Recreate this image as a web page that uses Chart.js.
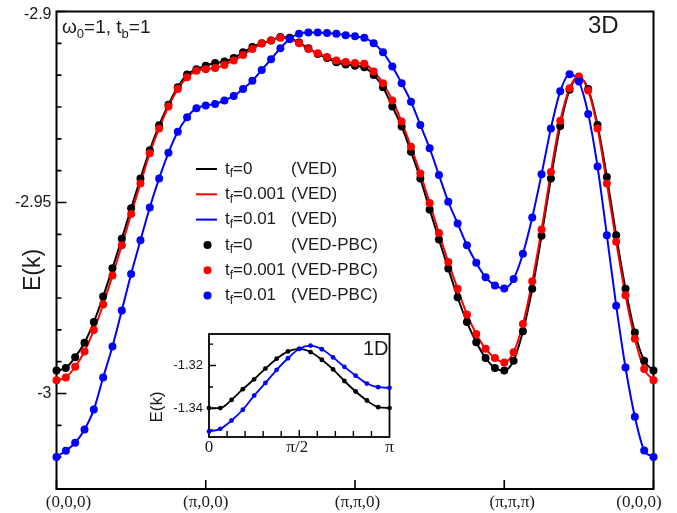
<!DOCTYPE html>
<html><head><meta charset="utf-8">
<script src="https://cdn.jsdelivr.net/npm/chart.js@4.4.0/dist/chart.umd.min.js"></script>
<style>
html,body{margin:0;padding:0;background:#fff;}
#wrap{position:relative;width:677px;height:513px;overflow:hidden;}
#main{position:absolute;left:0;top:0;}
#inset{position:absolute;left:140px;top:326px;}
</style></head><body>
<div id="wrap"><canvas id="main" width="677" height="513"></canvas><canvas id="inset" width="265" height="137"></canvas></div>
<script>
// ---------- main 3D panel data ----------
const kTickPos = [0, 16, 32, 48, 64];
const kTickLabels = ['(0,0,0)', '(\u03c0,0,0)', '(\u03c0,\u03c0,0)', '(\u03c0,\u03c0,\u03c0)', '(0,0,0)'];
const eTf0 = [
 -2.9940,-2.9933,-2.9905,-2.9867,-2.9813,-2.9746,-2.9672,-2.9595,-2.9515,-2.9437,-2.9363,-2.9298,-2.9244,-2.9198,-2.9165,-2.9151,-2.9142,
 -2.9135,-2.9131,-2.9122,-2.9107,-2.9093,-2.9083,-2.9076,-2.9067,-2.9069,-2.9081,-2.9096,-2.9111,-2.9122,-2.9133,-2.9139,-2.9142,
 -2.9146,-2.9166,-2.9198,-2.9249,-2.9301,-2.9367,-2.9437,-2.9518,-2.9597,-2.9673,-2.9748,-2.9813,-2.9866,-2.9907,-2.9933,-2.9940,
 -2.9914,-2.9837,-2.9726,-2.9587,-2.9437,-2.9300,-2.9205,-2.9174,-2.9203,-2.9297,-2.9433,-2.9586,-2.9726,-2.9840,-2.9914,-2.9940];
const eTf001 = [
 -2.9965,-2.9958,-2.9930,-2.9890,-2.9834,-2.9767,-2.9691,-2.9612,-2.9530,-2.9450,-2.9371,-2.9306,-2.9249,-2.9203,-2.9172,-2.9155,-2.9151,
 -2.9148,-2.9140,-2.9128,-2.9114,-2.9098,-2.9084,-2.9076,-2.9069,-2.9072,-2.9083,-2.9098,-2.9109,-2.9119,-2.9128,-2.9132,-2.9135,
 -2.9137,-2.9157,-2.9188,-2.9233,-2.9288,-2.9354,-2.9424,-2.9501,-2.9580,-2.9656,-2.9726,-2.9793,-2.9844,-2.9883,-2.9907,-2.9919,
 -2.9892,-2.9818,-2.9706,-2.9571,-2.9420,-2.9286,-2.9201,-2.9170,-2.9207,-2.9306,-2.9450,-2.9603,-2.9743,-2.9857,-2.9936,-2.9965];
const eTf01 = [
 -3.0166,-3.0150,-3.0129,-3.0094,-3.0042,-2.9958,-2.9877,-2.9783,-2.9687,-2.9599,-2.9513,-2.9437,-2.9370,-2.9315,-2.9277,-2.9253,-2.9246,
 -2.9242,-2.9233,-2.9221,-2.9203,-2.9181,-2.9153,-2.9125,-2.9096,-2.9072,-2.9058,-2.9055,-2.9055,-2.9056,-2.9058,-2.9062,-2.9065,
 -2.9069,-2.9083,-2.9107,-2.9144,-2.9188,-2.9236,-2.9297,-2.9358,-2.9428,-2.9498,-2.9555,-2.9612,-2.9658,-2.9696,-2.9717,-2.9725,
 -2.9700,-2.9634,-2.9539,-2.9426,-2.9306,-2.9209,-2.9164,-2.9183,-2.9268,-2.9406,-2.9586,-2.9770,-2.9932,-3.0061,-3.0149,-3.0166];
const yMajor = [-3, -2.95, -2.9];
const yMajorLabels = ['-3', '-2.95', '-2.9'];
const tfLabels = ['0', '0.001', '0.01'];
const methodLabels = ['(VED)', '(VED-PBC)'];

// ---------- inset 1D panel data ----------
const k1D = [0,0.0625,0.125,0.1875,0.25,0.3125,0.375,0.4375,0.5,0.5625,0.625,0.6875,0.75,0.8125,0.875,0.9375,1];
const e1DTf0 = [-1.3398,-1.3398,-1.3360,-1.3310,-1.3264,-1.3214,-1.3168,-1.3134,-1.3122,-1.3137,-1.3173,-1.3218,-1.3272,-1.3321,-1.3363,-1.3394,-1.3398];
const e1DTf01 = [-1.3507,-1.3495,-1.3456,-1.3406,-1.3340,-1.3281,-1.3220,-1.3166,-1.3122,-1.3107,-1.3124,-1.3162,-1.3206,-1.3247,-1.3284,-1.3301,-1.3304];
const k1DTickPos = [0, 0.5, 1];
const k1DTickLabels = ['0', '\u03c0/2', '\u03c0'];
const e1DMajor = [-1.34, -1.32];
const e1DMajorLabels = ['-1.34', '-1.32'];

const BLACK = '#000000', RED = '#ff0000', BLUE = '#0000ff';
const SANS = '"Liberation Sans", Arial, Helvetica, sans-serif';
const SERIF = '"Liberation Serif", "Times New Roman", serif';

const xyIdx = ys => ys.map((y, i) => ({x: i, y}));
const xyK = (xs, ys) => ys.map((y, i) => ({x: xs[i], y}));

function lineDS(label, data, color, order, w) {
  return {label, data, borderColor: color, backgroundColor: color, borderWidth: w,
    pointRadius: 0, cubicInterpolationMode: 'monotone', order, clip: false};
}
function dotDS(label, data, color, order, r) {
  return {label, data, showLine: false, pointRadius: r, pointHoverRadius: r,
    pointBackgroundColor: color, pointBorderColor: color, pointBorderWidth: 0,
    borderColor: color, backgroundColor: color, order, clip: false};
}

function drawSub(ctx, parts, x, y) {
  // parts: [text, size, dy]
  let cx = x;
  for (const [t, size, dy] of parts) {
    ctx.font = size + 'px ' + SANS;
    ctx.fillText(t, cx, y + dy);
    cx += ctx.measureText(t).width;
  }
  return cx;
}

const mainDeco = {
  id: 'mainDeco',
  beforeDatasetsDraw(chart) {
    const {ctx, chartArea: a, scales: {x, y}} = chart;
    ctx.save();
    ctx.strokeStyle = '#000'; ctx.lineWidth = 2;
    ctx.strokeRect(a.left, a.top, a.right - a.left, a.bottom - a.top);
    ctx.lineWidth = 1.6;
    ctx.beginPath();
    const step = 0.05 / 6;
    for (let k = 0; k <= 15; k++) {
      const v = y.min + k * step;
      const py = y.getPixelForValue(v);
      const major = (k % 6) === 3;
      ctx.moveTo(a.left, py); ctx.lineTo(a.left + (major ? 10 : 5), py);
    }
    for (const p of kTickPos) {
      const px = x.getPixelForValue(p);
      ctx.moveTo(px, a.bottom); ctx.lineTo(px, a.bottom - 9);
    }
    ctx.stroke();
    ctx.restore();
  },
  afterDraw(chart) {
    const {ctx, chartArea: a, scales: {x, y}} = chart;
    ctx.save();
    ctx.fillStyle = '#1a1a1a';
    // y tick labels
    ctx.font = '16px ' + SANS; ctx.textAlign = 'right'; ctx.textBaseline = 'middle';
    yMajor.forEach((v, i) => {
      let py = y.getPixelForValue(v);
      if (i === yMajor.length - 1) py += 3;
      ctx.fillText(yMajorLabels[i], a.left - 5, py);
    });
    // x tick labels
    const nudge = [12, 0, 2.5, 8, -14.5];
    ctx.font = '17px ' + SERIF; ctx.textAlign = 'center'; ctx.textBaseline = 'middle';
    kTickPos.forEach((p, i) => ctx.fillText(kTickLabels[i], x.getPixelForValue(p) + nudge[i], 503));
    // y title
    ctx.save();
    ctx.translate(34, 270); ctx.rotate(-Math.PI / 2);
    ctx.font = '23px ' + SANS; ctx.textAlign = 'center'; ctx.textBaseline = 'middle';
    ctx.fillText('E(k)', 0, 0);
    ctx.restore();
    // annotations
    ctx.textAlign = 'left'; ctx.textBaseline = 'alphabetic';
    drawSub(ctx, [['\u03c9', 19, 0], ['0', 13, 5], ['=1, t', 19, 0], ['b', 13, 5], ['=1', 19, 0]], 62, 33);
    ctx.font = '24px ' + SANS;
    ctx.fillText('3D', 588, 33);
    // legend
    const rows = [169, 194.3, 219.6, 244.9, 270.2, 295.5];
    const cols = [BLACK, RED, BLUE];
    ctx.textBaseline = 'middle';
    for (let r = 0; r < 6; r++) {
      const ci = r % 3, ry = rows[r];
      ctx.fillStyle = cols[ci]; ctx.strokeStyle = cols[ci];
      if (r < 3) {
        ctx.lineWidth = 2; ctx.beginPath(); ctx.moveTo(196, ry); ctx.lineTo(217, ry); ctx.stroke();
      } else {
        ctx.beginPath(); ctx.arc(207.5, ry, 4, 0, Math.PI * 2); ctx.fill();
      }
      ctx.fillStyle = '#1a1a1a';
      const endX = drawSub(ctx, [['t', 17, 0], ['f', 12, 5], ['=' + tfLabels[ci], 17, 0]], 225, ry);
      ctx.font = '17px ' + SANS;
      ctx.fillText(methodLabels[r < 3 ? 0 : 1], Math.max(291, endX + 0.5), ry);
    }
    ctx.restore();
  }
};

new Chart(document.getElementById('main'), {
  type: 'line',
  data: {datasets: [
    dotDS('t_f=0.01 (VED-PBC)', xyIdx(eTf01), BLUE, 0, 4),
    dotDS('t_f=0.001 (VED-PBC)', xyIdx(eTf001), RED, 1, 4),
    dotDS('t_f=0 (VED-PBC)', xyIdx(eTf0), BLACK, 2, 4),
    lineDS('t_f=0.01 (VED)', xyIdx(eTf01), BLUE, 3, 2),
    lineDS('t_f=0.001 (VED)', xyIdx(eTf001), RED, 4, 2),
    lineDS('t_f=0 (VED)', xyIdx(eTf0), BLACK, 5, 2)
  ]},
  options: {
    responsive: false, animation: false, devicePixelRatio: 1,
    layout: {padding: {left: 0, top: 11.5, right: 23.5, bottom: 0}},
    scales: {
      x: {type: 'linear', min: 0, max: 64, ticks: {display: false}, grid: {display: false}, border: {display: false},
          afterFit(s) { s.height = 24; }},
      y: {type: 'linear', min: -3.025, max: -2.9, ticks: {display: false}, grid: {display: false}, border: {display: false},
          afterFit(s) { s.width = 56.5; }}
    },
    plugins: {legend: {display: false}, tooltip: {enabled: false}}
  },
  plugins: [mainDeco]
});

const insetDeco = {
  id: 'insetDeco',
  beforeDatasetsDraw(chart) {
    const {ctx, chartArea: a, scales: {x, y}} = chart;
    ctx.save();
    ctx.fillStyle = '#fff';
    ctx.fillRect(a.left, a.top, a.right - a.left, a.bottom - a.top);
    ctx.strokeStyle = '#000'; ctx.lineWidth = 1.8;
    ctx.strokeRect(a.left, a.top, a.right - a.left, a.bottom - a.top);
    ctx.lineWidth = 1.4;
    ctx.beginPath();
    for (let k = 0; k < 5; k++) {
      const v = -1.35 + k * 0.01;
      const py = y.getPixelForValue(v);
      const major = (k === 1 || k === 3);
      ctx.moveTo(a.left, py); ctx.lineTo(a.left + (major ? 7 : 4), py);
    }
    for (let k = 1; k < 10; k++) {
      const px = x.getPixelForValue(k / 10);
      ctx.moveTo(px, a.bottom); ctx.lineTo(px, a.bottom - (k === 5 ? 7 : 6));
    }
    ctx.stroke();
    ctx.restore();
  },
  afterDraw(chart) {
    const {ctx, chartArea: a, scales: {x, y}} = chart;
    ctx.save();
    ctx.fillStyle = '#1a1a1a';
    ctx.font = '13px ' + SANS; ctx.textAlign = 'right'; ctx.textBaseline = 'middle';
    e1DMajor.forEach((v, i) => ctx.fillText(e1DMajorLabels[i], a.left - 6, y.getPixelForValue(v)));
    ctx.font = '17px ' + SERIF; ctx.textAlign = 'center';
    k1DTickPos.forEach((p, i) => ctx.fillText(k1DTickLabels[i], x.getPixelForValue(p) + (i === 1 ? -2 : 0), 122));
    ctx.save();
    ctx.translate(17, 81); ctx.rotate(-Math.PI / 2);
    ctx.font = '17px ' + SANS; ctx.textAlign = 'center';
    ctx.fillText('E(k)', 0, 0);
    ctx.restore();
    ctx.font = '20px ' + SANS; ctx.textAlign = 'left'; ctx.textBaseline = 'alphabetic';
    ctx.fillText('1D', 223, 29);
    ctx.restore();
  }
};

new Chart(document.getElementById('inset'), {
  type: 'line',
  data: {datasets: [
    dotDS('t_f=0.01', xyK(k1D, e1DTf01), BLUE, 0, 2.4),
    dotDS('t_f=0', xyK(k1D, e1DTf0), BLACK, 1, 2.4),
    lineDS('t_f=0.01 line', xyK(k1D, e1DTf01), BLUE, 2, 1.8),
    lineDS('t_f=0 line', xyK(k1D, e1DTf0), BLACK, 3, 1.8)
  ]},
  options: {
    responsive: false, animation: false, devicePixelRatio: 1,
    layout: {padding: {left: 0, top: 8, right: 15.5, bottom: 0}},
    scales: {
      x: {type: 'linear', min: 0, max: 1, ticks: {display: false}, grid: {display: false}, border: {display: false},
          afterFit(s) { s.height = 26; }},
      y: {type: 'linear', min: -1.3533, max: -1.3053, ticks: {display: false}, grid: {display: false}, border: {display: false},
          afterFit(s) { s.width = 69; }}
    },
    plugins: {legend: {display: false}, tooltip: {enabled: false}}
  },
  plugins: [insetDeco]
});
</script>
</body></html>
